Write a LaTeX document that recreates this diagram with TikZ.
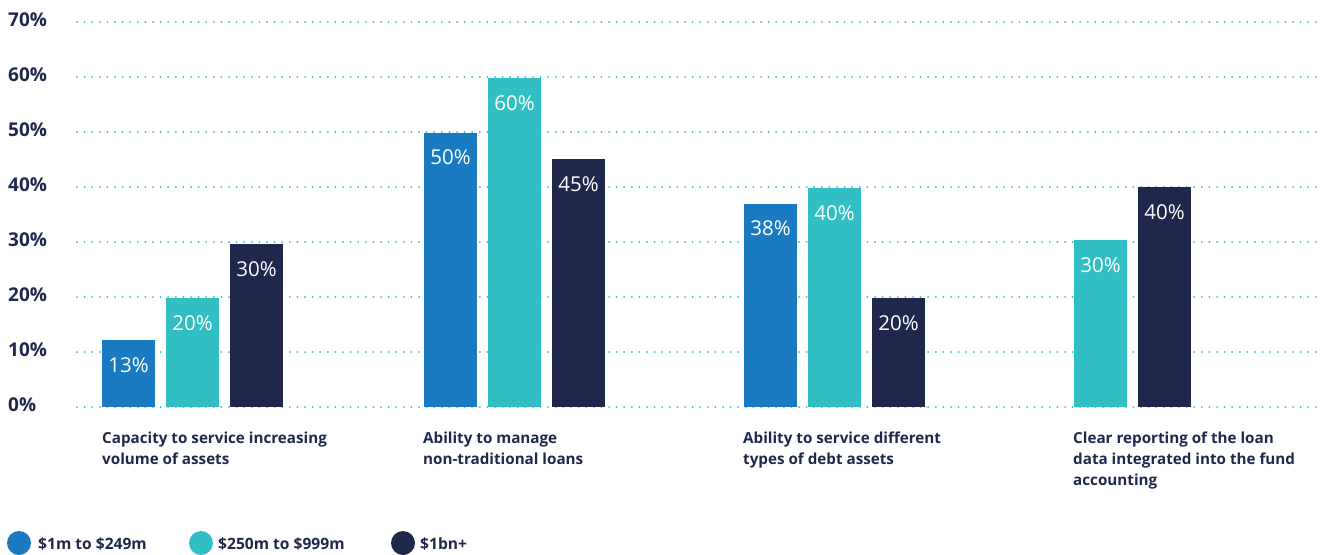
\documentclass[tikz,border=0pt]{standalone}
\usepackage{fontspec}
\setmainfont{Open Sans}
\definecolor{lowblue}{HTML}{1B7BC2}
\definecolor{midteal}{HTML}{32BFC3}
\definecolor{topnavy}{HTML}{1F284C}
\tikzset{
  gridline/.style={midteal, line width=2pt, line cap=round, dash pattern=on 0pt off 7.6pt},
  axislabel/.style={anchor=west, text=topnavy, inner sep=0pt, font=\fontsize{19}{19}\selectfont\bfseries},
  valuelabel/.style={text=white, inner sep=0pt, font=\fontsize{20.5}{20.5}\selectfont},
  catlabel/.style={anchor=north west, align=left, text=topnavy, inner sep=0pt, font=\fontsize{15.2}{21}\selectfont\bfseries},
  keylabel/.style={anchor=west, text=topnavy, inner sep=0pt, font=\fontsize{15.6}{15.6}\selectfont\bfseries}
}
\begin{document}
\begin{tikzpicture}[x=1pt, y=-1pt]
    \useasboundingbox (0,0) rectangle (1324,554);
    % grid and axis
    \foreach \p/\t in {0/0,1/10,2/20,3/30,4/40,5/50,6/60,7/70} {
        \draw[gridline] (77,{407-55*\p}) -- (1318,{407-55*\p});
        \node[axislabel] (ax\p) at (8,{405-55*\p}) {\t\%};
    }
    % bars
    \foreach \x/\v/\c/\n in {102/12.2/lowblue/13, 166/19.8/midteal/20, 230/29.6/topnavy/30,
                             424/49.9/lowblue/50, 488/59.8/midteal/60, 552/45.1/topnavy/45,
                             744/37/lowblue/38, 808/39.8/midteal/40, 872/19.8/topnavy/20,
                             1074/30.4/midteal/30, 1138/40/topnavy/40} {
        \fill[\c] (\x,407) rectangle ({\x+53},{407-5.5*\v});
        \node[valuelabel] (val\x) at ({\x+26.5},{407-5.5*\v+25}) {\n\%};
    }
    % categories
    \node[catlabel] (cat1) at (102,432) {Capacity to service increasing\\volume of assets};
    \node[catlabel] (cat2) at (423,432) {Ability to manage\\non-traditional loans};
    \node[catlabel] (cat3) at (743,432) {Ability to service different\\types of debt assets};
    \node[catlabel] (cat4) at (1073,432) {Clear reporting of the loan\\data integrated into the fund\\accounting};
    % legend
    \fill[lowblue] (19,543) circle (12);
    \fill[midteal] (201,543) circle (12);
    \fill[topnavy] (403,543) circle (12);
    \node[keylabel] (key1) at (38,544) {\$1m to \$249m};
    \node[keylabel] (key2) at (218,544) {\$250m to \$999m};
    \node[keylabel] (key3) at (420,544) {\$1bn+};
\end{tikzpicture}
\end{document}
